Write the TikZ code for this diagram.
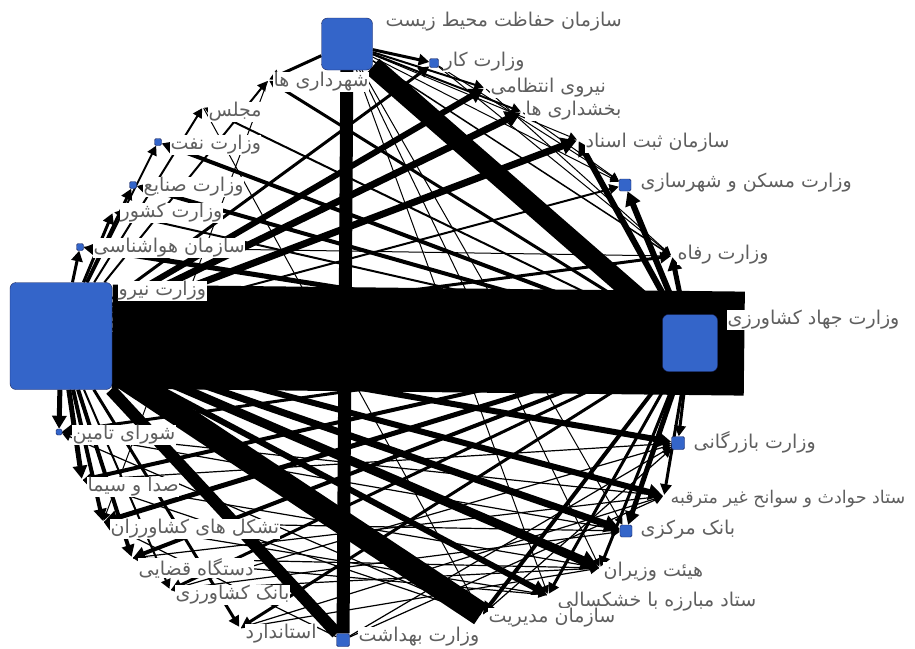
\documentclass[tikz,border=0pt]{standalone}
\usepackage{fontspec}
\newfontfamily\persian[Script=Arabic]{DejaVu Sans}
\TeXXeTstate=1
\usetikzlibrary{arrows.meta,backgrounds}
\definecolor{actorblue}{RGB}{52,101,201}
\definecolor{actoredge}{RGB}{25,35,90}
\definecolor{labelgray}{RGB}{95,95,95}

\begin{document}
\begin{tikzpicture}[x=1pt, y=-1pt,
    actor/.style={draw=actoredge, fill=actorblue, rounded corners=1.5pt,
                  inner sep=0pt, minimum size=#1},
    hub/.style={draw=actoredge, fill=actorblue, rounded corners=6pt, inner sep=0pt},
    spot/.style={inner sep=0pt, minimum size=2pt},
    lbl/.style={anchor=west, fill=white, text=labelgray, inner sep=0.5pt,
                font=\persian\fontsize{19}{21}\selectfont},
    tie/.style={line width=#1, -{Triangle[length=7pt 1.2, width=7pt 1.4]}},
    band/.style={line width=#1}
  ]
  \useasboundingbox (0,0) rectangle (915,648);

  % actors, round the circle
  \node[hub, minimum width=102pt, minimum height=107pt] (nirou) at (61,336) {};
  \node[hub, minimum width=51pt, minimum height=52pt] (mohit) at (347,44) {};
  \node[hub, minimum width=55pt, minimum height=57pt] (jahad) at (690,343) {};
  \node[actor=9pt]  (kar)       at (434,63) {};
  \node[actor=12pt] (maskan)    at (625,185) {};
  \node[actor=13pt] (bazargani) at (678,443) {};
  \node[actor=12pt] (markazi)   at (626,531) {};
  \node[actor=13pt] (behdasht)  at (343,640) {};
  \node[actor=6pt]  (shora)     at (59,432) {};
  \node[actor=7pt]  (hava)      at (80,247) {};
  \node[actor=7pt]  (sanaye)    at (133,185) {};
  \node[actor=7pt]  (naft)      at (158,142) {};
  \node[spot] (keshvar)     at (113,212) {};
  \node[spot] (majles)      at (203,107) {};
  \node[spot] (shahrdari)   at (268,80) {};
  \node[spot] (entezami)    at (485,88) {};
  \node[spot] (bakhshdari)  at (522,112) {};
  \node[spot] (sabt)        at (578,140) {};
  \node[spot] (refah)       at (672,256) {};
  \node[spot] (havades)     at (664,496) {};
  \node[spot] (hey)         at (600,568) {};
  \node[spot] (khoshk)      at (548,595) {};
  \node[spot] (modiriat)    at (482,615) {};
  \node[spot] (estandard)   at (240,628) {};
  \node[spot] (bkeshavarzi) at (170,590) {};
  \node[spot] (ghazai)      at (132,558) {};
  \node[spot] (tashakkol)   at (103,522) {};
  \node[spot] (seda)        at (82,480) {};

  \begin{pgfonlayer}{background}
    % heavy ties
    \draw[band=104pt, shorten >=-82pt] (nirou) -- (jahad);
    \draw[band=13pt] (mohit) -- (behdasht);
    \draw[band=20pt] (mohit) -- (jahad);
    \draw[band=24pt] (nirou) -- (modiriat);
    \draw[band=12pt] (nirou) -- (behdasht);
    % from nirou
    \draw[tie=7pt] (nirou) -- (sabt);
    \draw[tie=7pt] (nirou) -- (bakhshdari);
    \draw[tie=6pt] (nirou) -- (entezami);
    \draw[tie=3pt] (nirou) -- (kar);
    \draw[tie=3pt] (nirou) -- (hava);
    \draw[tie=3pt] (nirou) -- (keshvar);
    \draw[tie=3pt] (nirou) -- (sanaye);
    \draw[tie=2pt] (nirou) -- (naft);
    \draw[tie=2pt] (nirou) -- (majles);
    \draw[tie=2pt] (nirou) -- (shahrdari);
    \draw[tie=5pt] (nirou) -- (shora);
    \draw[tie=5pt] (nirou) -- (seda);
    \draw[tie=4pt] (nirou) -- (tashakkol);
    \draw[tie=4pt] (nirou) -- (ghazai);
    \draw[tie=2pt] (nirou) -- (bkeshavarzi);
    \draw[tie=3pt] (nirou) -- (estandard);
    \draw[tie=6pt] (nirou) -- (bazargani);
    \draw[tie=6pt] (nirou) -- (havades);
    \draw[tie=7pt] (nirou) -- (markazi);
    \draw[tie=9pt] (nirou) -- (hey);
    \draw[tie=6pt] (nirou) -- (khoshk);
    \draw[tie=2pt] (nirou) -- (maskan);
    \draw[tie=3pt] (nirou) -- (refah);
    % from jahad
    \draw[tie=5pt] (jahad) -- (hava);
    \draw[tie=2pt] (jahad) -- (keshvar);
    \draw[tie=4pt] (jahad) -- (sanaye);
    \draw[tie=4pt] (jahad) -- (naft);
    \draw[tie=2pt] (jahad) -- (majles);
    \draw[tie=3pt] (jahad) -- (shahrdari);
    \draw[tie=3pt] (jahad) -- (shora);
    \draw[tie=4pt] (jahad) -- (seda);
    \draw[tie=5pt] (jahad) -- (tashakkol);
    \draw[tie=4pt] (jahad) -- (ghazai);
    \draw[tie=3pt] (jahad) -- (bkeshavarzi);
    \draw[tie=3pt] (jahad) -- (estandard);
    \draw[tie=4pt] (jahad) -- (modiriat);
    \draw[tie=3pt] (jahad) -- (khoshk);
    \draw[tie=3pt] (jahad) -- (hey);
    \draw[tie=5pt] (jahad) -- (markazi);
    \draw[tie=3pt] (jahad) -- (havades);
    \draw[tie=3pt] (jahad) -- (bazargani);
    \draw[tie=5pt] (jahad) -- (refah);
    \draw[tie=6pt] (jahad) -- (maskan);
    \draw[tie=6pt] (jahad) -- (sabt);
    % from mohit
    \draw[tie=3pt] (mohit) -- (kar);
    \draw[tie=2pt] (mohit) -- (entezami);
    \draw[tie=2pt] (mohit) -- (bakhshdari);
    \draw[tie=1pt] (mohit) -- (sabt);
    \draw[tie=1pt] (mohit) -- (maskan);
    \draw[tie=1.5pt] (mohit) -- (refah);
    \draw[tie=3pt] (mohit) -- (shahrdari);
    \draw[tie=1pt] (mohit) -- (markazi);
    \draw[tie=1pt] (mohit) -- (hey);
    \draw[tie=1pt] (mohit) -- (khoshk);
    % thin ties
    \draw[tie=1.2pt] (shora) -- (havades);
    \draw[tie=1.2pt] (shora) -- (markazi);
    \draw[tie=1.2pt] (seda) -- (hey);
    \draw[tie=1.2pt] (seda) -- (bazargani);
    \draw[tie=1.2pt] (tashakkol) -- (markazi);
    \draw[tie=1.2pt] (tashakkol) -- (khoshk);
    \draw[tie=1.2pt] (ghazai) -- (havades);
    \draw[tie=1.2pt] (ghazai) -- (hey);
    \draw[tie=1.2pt] (bkeshavarzi) -- (bazargani);
    \draw[tie=1.2pt] (bkeshavarzi) -- (markazi);
    \draw[tie=1.2pt] (estandard) -- (hey);
    \draw[tie=1.2pt] (estandard) -- (havades);
    \draw[tie=1.2pt] (behdasht) -- (bazargani);
    \draw[tie=1.2pt] (behdasht) -- (havades);
    \draw[tie=1.2pt] (modiriat) -- (bazargani);
    \draw[tie=1.2pt] (modiriat) -- (seda);
    \draw[tie=1.2pt] (modiriat) -- (shora);
    \draw[tie=1.2pt] (behdasht) -- (tashakkol);
    \draw[tie=1.2pt] (khoshk) -- (ghazai);
    \draw[tie=1.2pt] (hey) -- (bkeshavarzi);
    \draw[tie=1pt] (kar) -- (refah);
    \draw[tie=1pt] (entezami) -- (refah);
    \draw[tie=1pt] (bakhshdari) -- (maskan);
    \draw[tie=1pt] (hava) -- (refah);
    \draw[tie=1pt] (shahrdari) -- (tashakkol);
    \draw[tie=1pt] (majles) -- (modiriat);
    \draw[tie=1pt] (kar) -- (maskan);
  \end{pgfonlayer}

  % labels
  \node[lbl] (t-mohit)       at (385,22)  {\beginR سازمان حفاظت محیط زیست\endR};
  \node[lbl] (t-kar)         at (443,62)  {\beginR وزارت کار\endR};
  \node[lbl] (t-entezami)    at (490,88)  {\beginR نیروی انتظامی\endR};
  \node[lbl] (t-bakhshdari)  at (525,111) {\beginR بخشداری ها\endR};
  \node[lbl] (t-sabt)        at (585,143) {\beginR سازمان ثبت اسناد\endR};
  \node[lbl] (t-maskan)      at (640,183) {\beginR وزارت مسکن و شهرسازی\endR};
  \node[lbl] (t-refah)       at (677,255) {\beginR وزارت رفاه\endR};
  \node[lbl] (t-jahad)       at (727,320) {\beginR وزارت جهاد کشاورزی\endR};
  \node[lbl] (t-bazargani)   at (693,442) {\beginR وزارت بازرگانی\endR};
  \node[lbl, font=\persian\fontsize{17.5}{20}\selectfont]
             (t-havades)     at (670,499) {\beginR ستاد حوادث و سوانح غیر مترقبه\endR};
  \node[lbl] (t-markazi)     at (640,530) {\beginR بانک مرکزی\endR};
  \node[lbl] (t-hey)         at (603,572) {\beginR هیئت وزیران\endR};
  \node[lbl] (t-khoshk)      at (557,602) {\beginR ستاد مبارزه با خشکسالی\endR};
  \node[lbl] (t-modiriat)    at (488,618) {\beginR سازمان مدیریت\endR};
  \node[lbl] (t-behdasht)    at (358,637) {\beginR وزارت بهداشت\endR};
  \node[lbl] (t-estandard)   at (245,634) {\beginR استاندارد\endR};
  \node[lbl] (t-bkeshavarzi) at (175,595) {\beginR بانک کشاورزی\endR};
  \node[lbl] (t-ghazai)      at (138,568) {\beginR دستگاه قضایی\endR};
  \node[lbl] (t-tashakkol)   at (110,529) {\beginR تشکل های کشاورزان\endR};
  \node[lbl] (t-seda)        at (87,487)  {\beginR صدا و سیما\endR};
  \node[lbl] (t-shora)       at (72,435)  {\beginR شورای تامین\endR};
  \node[lbl] (t-nirou)       at (118,291) {\beginR وزارت نیرو\endR};
  \node[lbl] (t-hava)        at (93,248)  {\beginR سازمان هواشناسی\endR};
  \node[lbl] (t-keshvar)     at (120,213) {\beginR وزارت کشور\endR};
  \node[lbl] (t-sanaye)      at (143,187) {\beginR وزارت صنایع\endR};
  \node[lbl] (t-naft)        at (170,145) {\beginR وزارت نفت\endR};
  \node[lbl] (t-majles)      at (208,112) {\beginR مجلس\endR};
  \node[lbl] (t-shahrdari)   at (273,82)  {\beginR شهرداری ها\endR};
\end{tikzpicture}
\end{document}
